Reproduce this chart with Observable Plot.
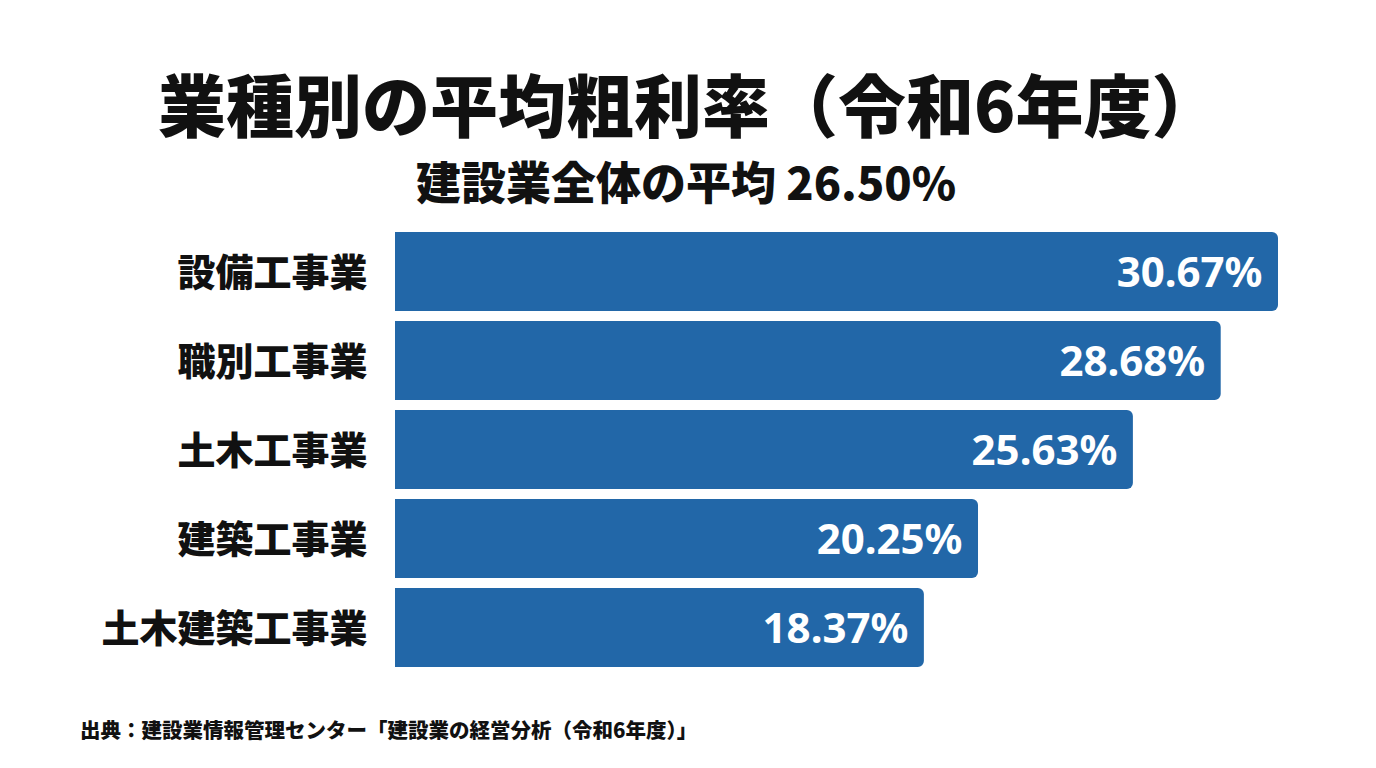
<!DOCTYPE html>
<html>
<head>
<meta charset="utf-8">
<script src="https://cdn.jsdelivr.net/npm/d3@7"></script>
<script src="https://cdn.jsdelivr.net/npm/@observablehq/plot@0.6"></script>
<style>
  html, body { margin: 0; padding: 0; background: #ffffff; }
  body { width: 1376px; height: 768px; position: relative; overflow: hidden;
         font-family: "Noto Sans CJK JP", "Noto Sans", sans-serif; color: #111; }
  .abs { position: absolute; white-space: nowrap; transform: translate(0, -50%); }
  #title { left: 158px; top: 102px; font-size: 68px; font-weight: 900; }
  #subtitle { left: 416px; top: 180px; font-size: 45px; font-weight: 900; }
  #source { left: 80px; top: 729px; font-size: 20.5px; font-weight: 900; }
  #chart { position: absolute; left: 0; top: 0; }
</style>
</head>
<body>
<div id="chart"></div>
<div id="title" class="abs">業種別の平均粗利率（令和6年度）</div>
<div id="subtitle" class="abs">建設業全体の平均 26.50%</div>
<div id="source" class="abs">出典：建設業情報管理センター「建設業の経営分析（令和6年度）」</div>
<script>
const categories = ["設備工事業", "職別工事業", "土木工事業", "建築工事業", "土木建築工事業"];
const values = [30.67, 28.68, 25.63, 20.25, 18.37];

const data = categories.map((c, i) => ({category: c, value: values[i]}));

const chart = Plot.plot({
  width: 1376,
  height: 768,
  marginTop: 227,
  marginBottom: 96,
  marginLeft: 395,
  marginRight: 98,
  style: {background: "transparent", fontFamily: "'Noto Sans CJK JP', 'Noto Sans', sans-serif"},
  x: {axis: null},
  y: {domain: categories, axis: null, paddingInner: 10 / 89, paddingOuter: 5 / 89},
  marks: [
    Plot.barX(data, {x: "value", y: "category", fill: "#2267a8", rx2: 6}),
    Plot.text(data, {
      y: "category", text: "category", frameAnchor: "left", textAnchor: "end",
      dx: -28, dy: 2, fontSize: 38, fontWeight: 900, fill: "#111"
    }),
    Plot.text(data, {
      x: "value", y: "category", text: d => d.value.toFixed(2) + "%",
      textAnchor: "end", dx: -16, dy: 2, fontSize: 42, fontWeight: 700, fill: "#ffffff",
      fontFamily: "'Noto Sans', 'Noto Sans CJK JP', sans-serif"
    })
  ]
});
document.getElementById("chart").appendChild(chart);
</script>
</body>
</html>
